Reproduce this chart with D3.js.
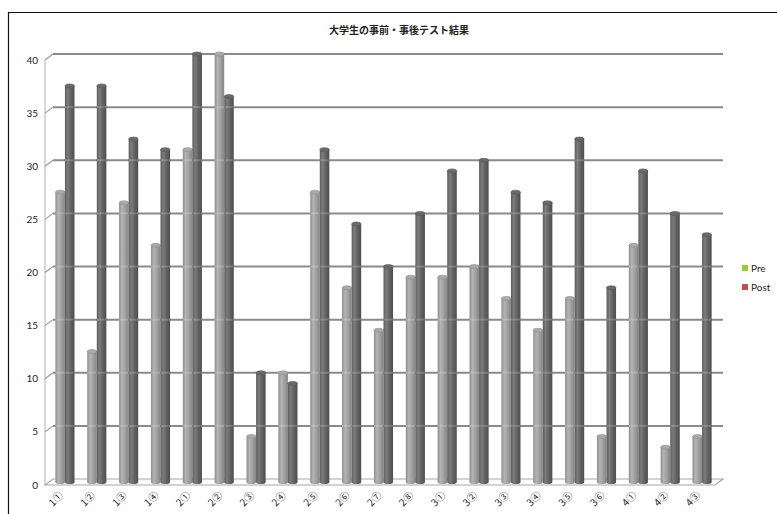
<!DOCTYPE html>
<html>
<head>
<meta charset="utf-8">
<script src="https://cdn.jsdelivr.net/npm/d3@7"></script>
<style>
  html, body { margin: 0; padding: 0; background: #fff; }
  svg { display: block; }
  svg text { -webkit-font-smoothing: antialiased; }
</style>
</head>
<body>
<svg id="chart" width="777" height="514"></svg>
<script>
// Test items (section + question number)
const categories = ["1①","1②","1③","1④","2①","2②","2③","2④","2⑤","2⑥","2⑦","2⑧",
                    "3①","3②","3③","3④","3⑤","3⑥","4①","4②","4③"];
// Scores before and after the course
const preValues  = [27, 12, 26, 22, 31, 40, 4, 10, 27, 18, 14, 19, 19, 20, 17, 14, 17, 4, 22, 3, 4];
const postValues = [37, 37, 32, 31, 40, 36, 10, 9, 31, 24, 20, 25, 29, 30, 27, 26, 32, 18, 29, 25, 23];
const yTicks = [0, 5, 10, 15, 20, 25, 30, 35, 40];
const seriesNames = ["Pre", "Post"];
const legendColors = ["#9acd32", "#c0504d"];
const title = "大学生の事前・事後テスト結果";

const svg = d3.select("#chart");
const jpFont = "'Noto Sans CJK JP', 'Noto Sans', sans-serif";
const numFont = "Lato, 'Liberation Sans', sans-serif";

// Back wall and depth offsets of the pseudo-3D frame
const wallLeft = 53, wallRight = 723, depthX = 8, depthY = 6;

const y = d3.scaleLinear().domain([0, 40]).range([479, 54]);
const x = d3.scaleBand().domain(categories).range([49, 718]).paddingInner(0.4).paddingOuter(0.2);
const xs = d3.scaleBand().domain(seriesNames).range([0, x.bandwidth()]);

// Chart frame (left and top edges)
svg.append("path")
  .attr("d", "M8.5,514 L8.5,12.5 L777,12.5")
  .attr("fill", "none").attr("stroke", "#111").attr("stroke-width", 1.2);

// Title
svg.append("text")
  .attr("x", 399).attr("y", 34)
  .attr("text-anchor", "middle")
  .attr("font-family", jpFont).attr("font-size", 10).attr("font-weight", "bold")
  .attr("fill", "#222")
  .text(title);

// Gradients for the cylinder shading
const defs = svg.append("defs");
function cyl(id, stops) {
  const g = defs.append("linearGradient").attr("id", id)
    .attr("x1", "0%").attr("x2", "100%").attr("y1", "0%").attr("y2", "0%");
  stops.forEach(s => g.append("stop").attr("offset", s[0]).attr("stop-color", s[1]));
}
cyl("gPre",  [["0%", "#8c8c8c"], ["30%", "#b4b4b4"], ["60%", "#a2a2a2"], ["100%", "#858585"]]);
cyl("gPost", [["0%", "#5e5e5e"], ["30%", "#7c7c7c"], ["60%", "#636363"], ["100%", "#4e4e4e"]]);

// Side wall front edge
svg.append("line")
  .attr("x1", wallLeft - depthX).attr("x2", wallLeft - depthX)
  .attr("y1", y(40) + depthY).attr("y2", y(0) + depthY)
  .attr("stroke", "#b0b0b0").attr("stroke-width", 1);

// Floor
svg.append("path")
  .attr("d", `M${wallLeft - depthX},${y(0) + depthY} L${wallLeft},${y(0)} L${wallRight},${y(0)} L${wallRight - depthX},${y(0) + depthY} Z`)
  .attr("fill", "#fff").attr("stroke", "#a8a8a8").attr("stroke-width", 1.2);

// Gridlines on the back wall with their slanted side-wall segments
const grid = svg.append("g");
yTicks.filter(t => t > 0).forEach(t => {
  grid.append("line")
    .attr("x1", wallLeft).attr("x2", wallRight)
    .attr("y1", y(t)).attr("y2", y(t))
    .attr("stroke", "#8a8a8a").attr("stroke-width", 2);
  grid.append("line")
    .attr("x1", wallLeft - depthX).attr("x2", wallLeft)
    .attr("y1", y(t) + depthY).attr("y2", y(t))
    .attr("stroke", "#9a9a9a").attr("stroke-width", 1.2);
});

// Y tick labels
svg.append("g").selectAll("text").data(yTicks).join("text")
  .attr("x", 38).attr("y", d => y(d) + depthY + 3.5)
  .attr("text-anchor", "end")
  .attr("font-family", numFont).attr("font-size", 10)
  .attr("fill", "#222")
  .text(d => d);

// Bars as shaded cylinders
const rows = categories.map((c, i) => ({ c, vals: [preValues[i], postValues[i]] }));
const bars = svg.append("g");
rows.forEach(r => {
  r.vals.forEach((v, k) => {
    const s = seriesNames[k];
    const x0 = x(r.c) + xs(s);
    const w = xs.bandwidth();
    const top = y(v), bottom = y(0) + 3;
    const fill = k === 0 ? "url(#gPre)" : "url(#gPost)";
    // bottom cap
    bars.append("ellipse")
      .attr("cx", x0 + w / 2).attr("cy", bottom).attr("rx", w / 2).attr("ry", 2)
      .attr("fill", fill);
    bars.append("rect")
      .attr("x", x0).attr("y", top).attr("width", w).attr("height", bottom - top)
      .attr("fill", fill);
    // gridlines showing through the bar
    yTicks.filter(t => t > 0 && t < v).forEach(t => {
      bars.append("rect")
        .attr("x", x0).attr("y", y(t) - 1).attr("width", w).attr("height", 2)
        .attr("fill", "#fff").attr("opacity", 0.18);
    });
    // top cap
    bars.append("ellipse")
      .attr("cx", x0 + w / 2).attr("cy", top).attr("rx", w / 2).attr("ry", 2)
      .attr("fill", k === 0 ? "#a9a9a9" : "#6a6a6a")
      .attr("stroke", k === 0 ? "#8e8e8e" : "#555").attr("stroke-width", 0.6);
  });
});

// Category labels, rotated (grouped with slight opacity for grayscale text smoothing)
svg.append("g").attr("opacity", 0.99).selectAll("text").data(categories).join("text")
  .attr("transform", d => `translate(${x(d) + x.bandwidth() / 2 - 1},${y(0) + 17}) rotate(-45)`)
  .attr("text-anchor", "end")
  .attr("font-family", jpFont).attr("font-size", 10)
  .attr("fill", "#222")
  .text(d => d);

// Legend
const legend = svg.append("g").attr("transform", "translate(742,268)");
seriesNames.forEach((n, i) => {
  const g = legend.append("g").attr("transform", `translate(0,${i * 19})`);
  g.append("rect").attr("x", 0).attr("y", -3).attr("width", 6).attr("height", 6)
    .attr("fill", legendColors[i]);
  g.append("text").attr("x", 9).attr("y", 3.5)
    .attr("font-family", numFont).attr("font-size", 10).attr("fill", "#222")
    .text(n);
});
</script>
</body>
</html>
